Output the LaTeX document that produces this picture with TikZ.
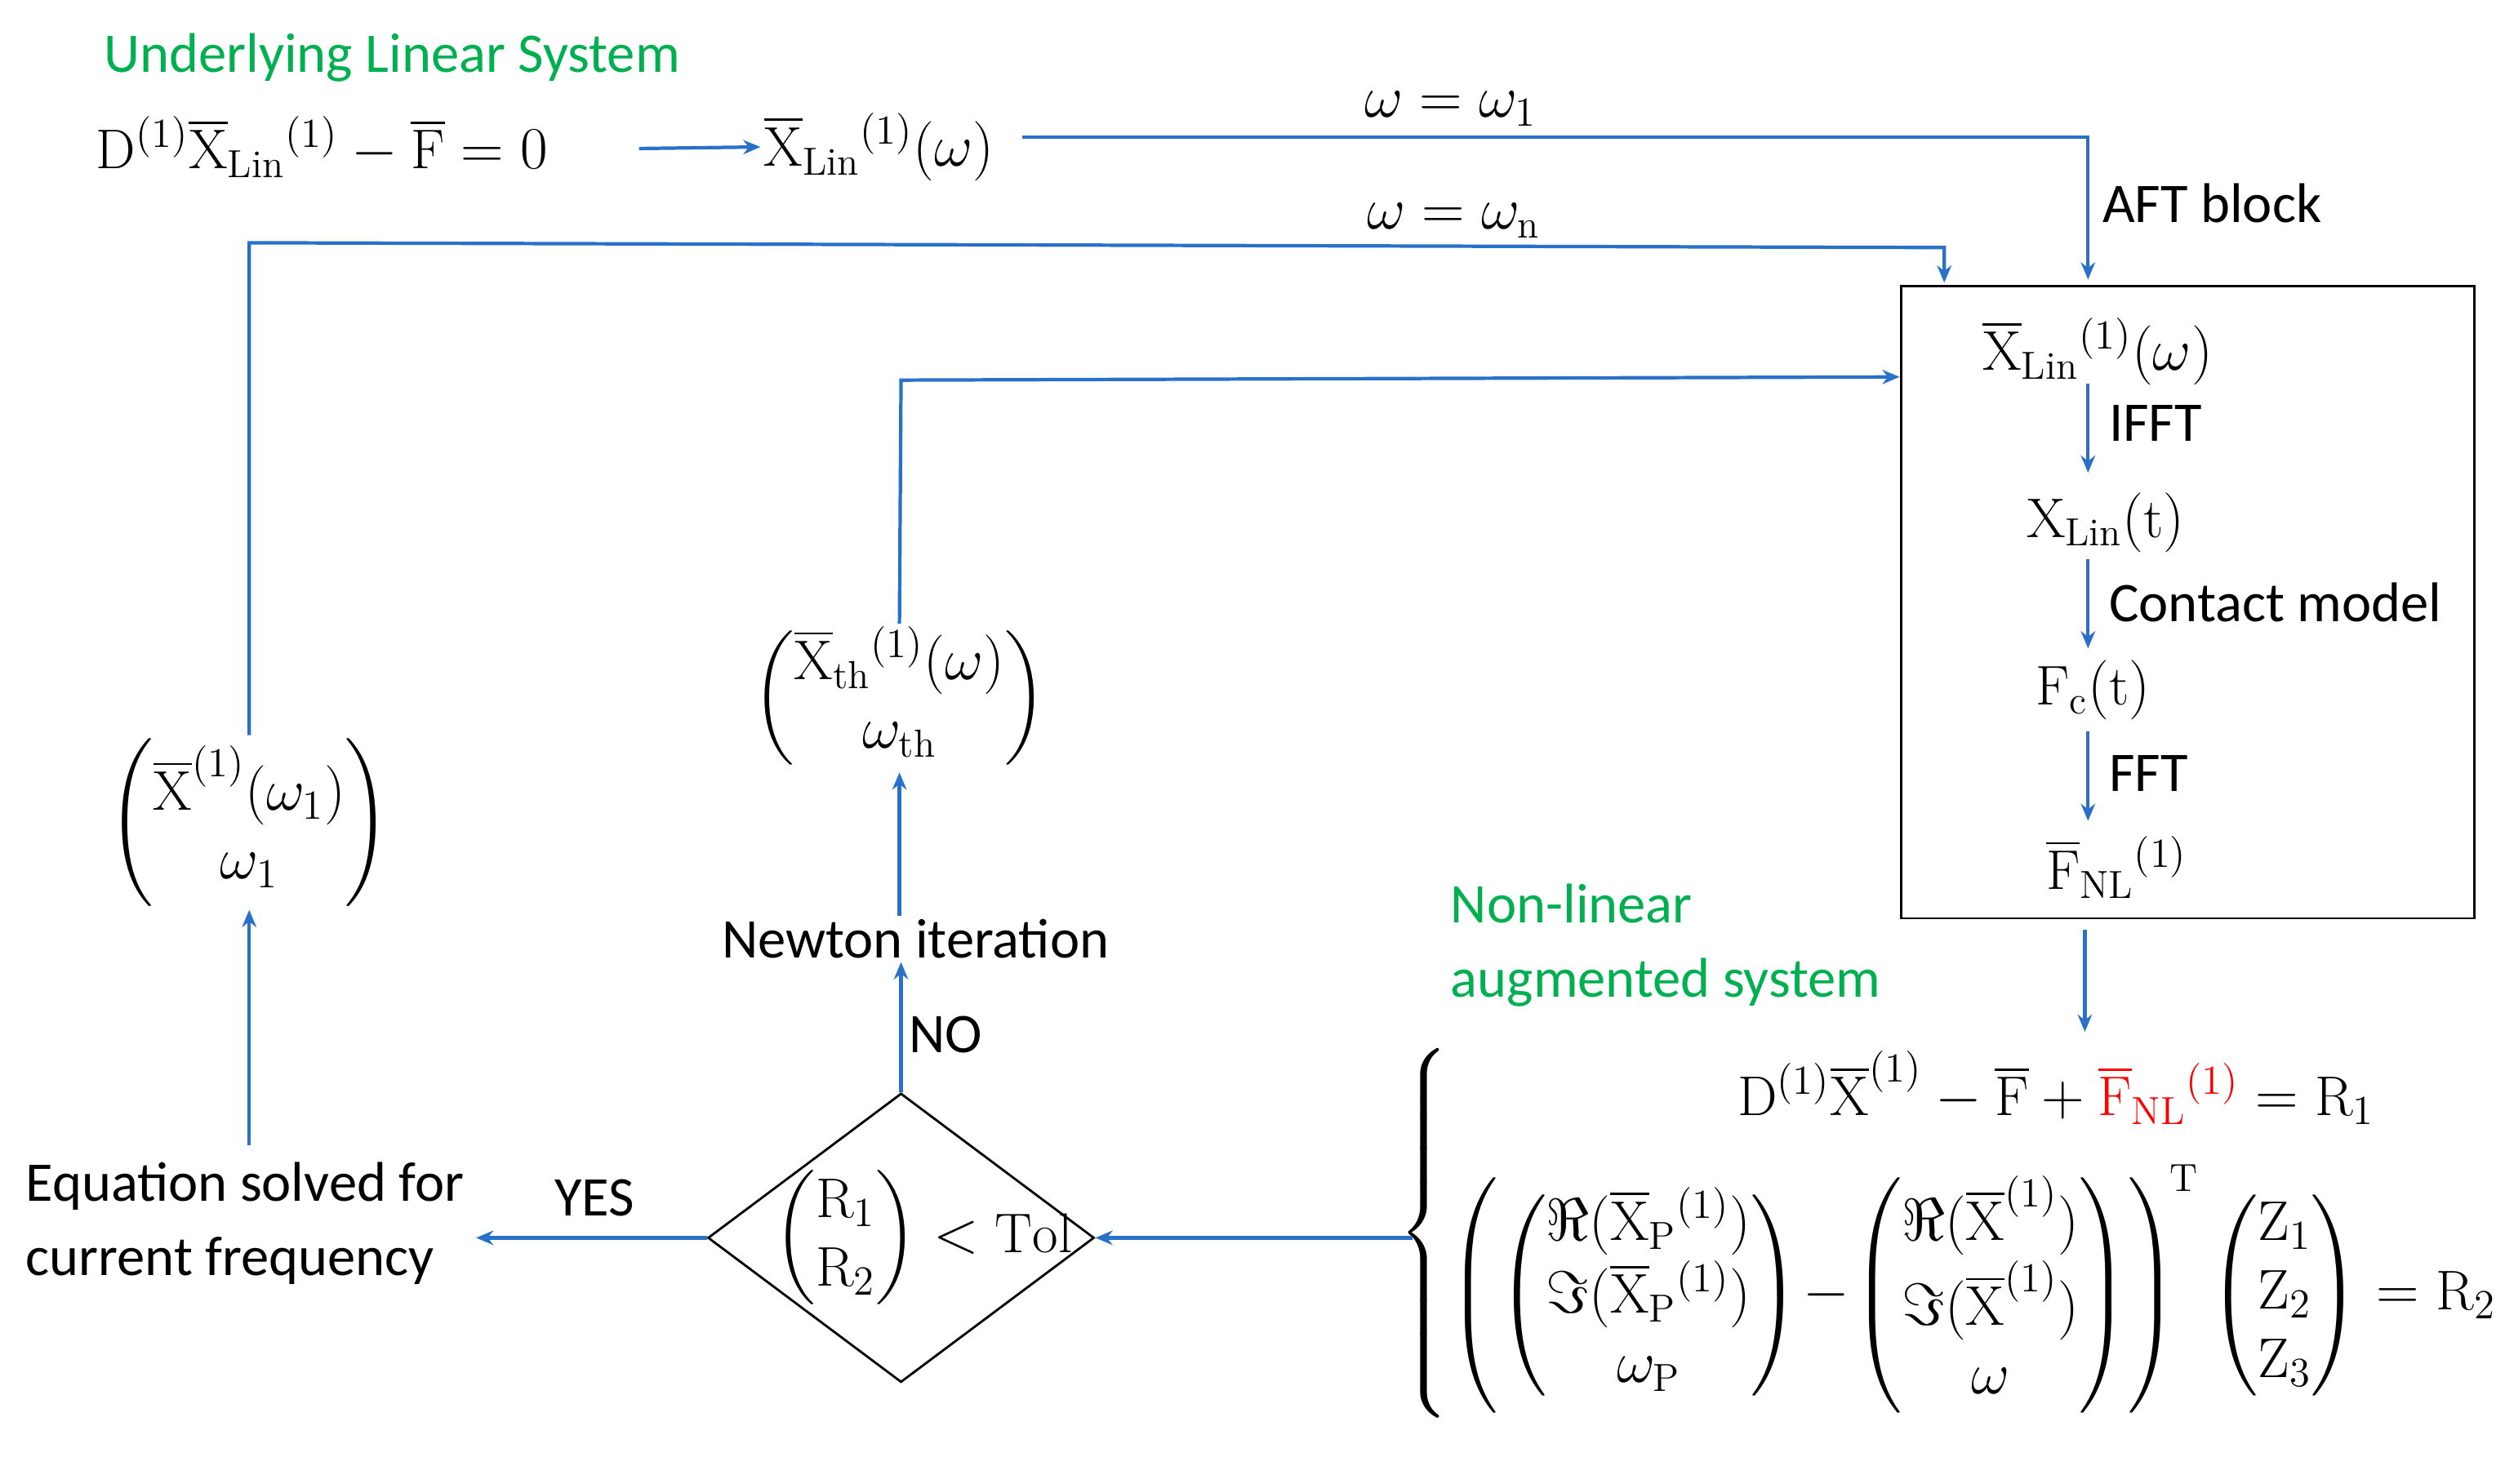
\documentclass[tikz,border=0pt]{standalone}
\usepackage{amsmath,amssymb}
\usepackage{fontspec}
\newfontfamily\txtfont{Carlito}
\usetikzlibrary{shapes.geometric,arrows.meta}
\definecolor{lblue}{RGB}{40,112,200}
\definecolor{lgreen}{RGB}{0,176,80}
\newcommand{\Xb}{\overline{\mathrm{X}}}
\newcommand{\Fb}{\overline{\mathrm{F}}}
\begin{document}
\begin{tikzpicture}[x=0.019566cm,y=-0.019566cm,
  every node/.style={inner sep=1pt,font=\fontsize{19.5}{24}\selectfont},
  txt/.style={font=\txtfont\fontsize{19.5}{26}\selectfont},
  gtxt/.style={txt,text=lgreen,align=left},
  conn/.style={draw=lblue,line width=1.2pt,-{Stealth[length=6pt,width=5pt]}},
  line/.style={draw=lblue,line width=1.2pt}]
\useasboundingbox (0,0) rectangle (1568,929);
\node[gtxt,anchor=west] (ul) at (63,36) {Underlying Linear System};
\node[anchor=west] (eq0) at (58,92) {$\mathrm{D}^{(1)}\Xb_{\mathrm{Lin}}{}^{(1)}-\Fb=0$};
\node[anchor=west] (xlin) at (476,92) {$\Xb_{\mathrm{Lin}}{}^{(1)}(\omega)$};
\coordinate (a0) at (400,93);
\draw[conn] (a0) -- (xlin.west);
\coordinate (c1) at (1307,86);
\coordinate (c1e) at (1307,175);
\draw[conn] (640,86) -- (c1) -- (c1e);
\node (w1) at (908,68) {$\omega=\omega_1$};
\node[txt,anchor=west] (aft) at (1314,127) {AFT block};
\draw[line width=0.8pt] (1190,179) rectangle (1549,575);
\node (bx1) at (1313,220) {$\Xb_{\mathrm{Lin}}{}^{(1)}(\omega)$};
\node (bx2) at (1318,327) {$\mathrm{X}_{\mathrm{Lin}}(\mathrm{t})$};
\node (bx3) at (1310,432) {$\mathrm{F}_{\mathrm{c}}(\mathrm{t})$};
\node (bx4) at (1325,543) {$\Fb_{\mathrm{NL}}{}^{(1)}$};
\draw[conn] (1307,240) -- (1307,296);
\draw[conn] (1307,350) -- (1307,406);
\draw[conn] (1307,458) -- (1307,514);
\node[txt,anchor=west] at (1318,265) {IFFT};
\node[txt,anchor=west] at (1318,377) {Contact model};
\node[txt,anchor=west] at (1318,484) {FFT};
\node[gtxt,anchor=west] (nl) at (906,592) {Non-linear\\augmented system};
\draw[conn] (1305,582) -- (1305,646);
\node (sys) at (1220,772) {$\left\{\begin{array}{@{}c@{}}
\hspace*{3em}\mathrm{D}^{(1)}\Xb^{(1)}-\Fb+\textcolor{red}{\Fb_{\mathrm{NL}}{}^{(1)}}=\mathrm{R}_1\\[10pt]
\left(\begin{pmatrix}\Re(\Xb_{\mathrm{P}}{}^{(1)})\\ \Im(\Xb_{\mathrm{P}}{}^{(1)})\\ \omega_{\mathrm{P}}\end{pmatrix}\!-\!\begin{pmatrix}\Re(\Xb^{(1)})\\ \Im(\Xb^{(1)})\\ \omega\end{pmatrix}\right)^{\!\mathrm{T}}\begin{pmatrix}\mathrm{Z}_1\\ \mathrm{Z}_2\\ \mathrm{Z}_3\end{pmatrix}=\mathrm{R}_2
\end{array}\right.$};
\node[diamond,draw,line width=0.8pt,minimum width=4.73cm,minimum height=3.54cm,inner sep=0pt] (dia) at (564,775) {};
\node at (578,775) {$\begin{pmatrix}\mathrm{R}_1\\ \mathrm{R}_2\end{pmatrix}<\mathrm{Tol}$};
\coordinate (s0) at (884,775);
\draw[conn] (s0) -- (dia.east);
\node[txt,anchor=west,align=left] (sol) at (14,766) {Equation solved for\\current frequency};
\draw[conn] (dia.west) -- (298,775);
\node[txt] at (372,750) {YES};
\node (m1) at (156,515) {$\begin{pmatrix}\Xb^{(1)}(\omega_1)\\ \omega_1\end{pmatrix}$};
\draw[conn] (156,717) -- (m1.south);
\coordinate (d1) at (156,152);
\coordinate (d2) at (1217,155);
\draw[conn] (m1.north) -- (d1) -- (d2) -- (1217,177);
\node (wn) at (910,138) {$\omega=\omega_{\mathrm{n}}$};
\node[txt] (newt) at (573,588) {Newton iteration};
\draw[conn] (dia.north) -- (newt.south -| dia.north);
\node[txt] at (592,648) {NO};
\node (m2) at (563,437) {$\begin{pmatrix}\Xb_{\mathrm{th}}{}^{(1)}(\omega)\\ \omega_{\mathrm{th}}\end{pmatrix}$};
\draw[conn] (newt.north -| m2.south) -- (m2.south);
\coordinate (e1) at (564,238);
\draw[conn] (m2.north) -- (e1) -- (1189,236);
\end{tikzpicture}
\end{document}
